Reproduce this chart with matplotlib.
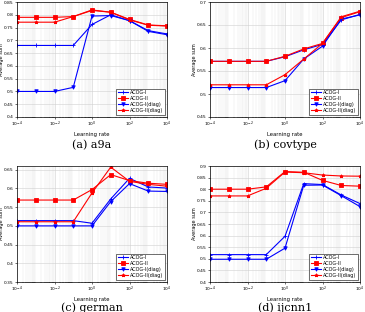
import numpy as np
import matplotlib.pyplot as plt

# learning rates 1e-4 ... 1e4
lr = [1e-4, 1e-3, 1e-2, 1e-1, 1e0, 1e1, 1e2, 1e3, 1e4]
labels = ["ACOG-I", "ACOG-II", "ACOG-I(diag)", "ACOG-II(diag)"]

a9a_I = [0.68, 0.68, 0.68, 0.68, 0.762, 0.80, 0.777, 0.738, 0.725]
a9a_II = [0.79, 0.79, 0.79, 0.793, 0.817, 0.81, 0.782, 0.76, 0.757]
a9a_Id = [0.50, 0.50, 0.50, 0.516, 0.795, 0.797, 0.777, 0.735, 0.722]
a9a_IId = [0.771, 0.771, 0.771, 0.793, 0.819, 0.81, 0.78, 0.759, 0.756]

cov_I = [0.571, 0.571, 0.571, 0.571, 0.581, 0.596, 0.608, 0.661, 0.673]
cov_II = [0.571, 0.571, 0.571, 0.571, 0.582, 0.598, 0.610, 0.666, 0.679]
cov_Id = [0.514, 0.514, 0.514, 0.514, 0.529, 0.576, 0.604, 0.663, 0.672]
cov_IId = [0.520, 0.520, 0.520, 0.520, 0.542, 0.576, 0.610, 0.668, 0.680]

ger_I = [0.514, 0.514, 0.514, 0.514, 0.507, 0.572, 0.627, 0.604, 0.601]
ger_II = [0.569, 0.569, 0.569, 0.569, 0.597, 0.637, 0.621, 0.614, 0.611]
ger_Id = [0.50, 0.50, 0.50, 0.50, 0.50, 0.565, 0.613, 0.593, 0.592]
ger_IId = [0.511, 0.511, 0.511, 0.511, 0.588, 0.657, 0.619, 0.611, 0.606]

ijc_I = [0.518, 0.518, 0.518, 0.518, 0.597, 0.824, 0.82, 0.775, 0.738]
ijc_II = [0.80, 0.80, 0.80, 0.81, 0.876, 0.873, 0.838, 0.816, 0.813]
ijc_Id = [0.498, 0.498, 0.498, 0.498, 0.546, 0.817, 0.818, 0.772, 0.725]
ijc_IId = [0.771, 0.771, 0.771, 0.804, 0.874, 0.871, 0.861, 0.857, 0.856]

styles = [("b", "+"), ("r", "s"), ("b", "v"), ("r", "*")]

fig = plt.figure(figsize=(3.65, 3.12), dpi=100)
W, H = 365.0, 312.0


def panel(box, series, ylim, yticks, caption, cap_y):
    l, t, r, b = box
    ax = fig.add_axes([l / W, 1 - b / H, (r - l) / W, (b - t) / H])
    for (c, m), y, lab in zip(styles, series, labels):
        ax.plot(lr, y, color=c, marker=m, lw=0.8, ms=2.5, mew=0.6, label=lab)
    ax.set_xscale("log")
    ax.set_xlim(1e-4, 1e4)
    ax.set_ylim(*ylim)
    ax.set_xticks([1e-4, 1e-2, 1e0, 1e2, 1e4])
    ax.set_yticks(yticks)
    ax.set_yticklabels([f"{v:g}" for v in yticks])
    ax.grid(True, which="major", color="#d0d0d0", lw=0.4)
    ax.grid(True, which="minor", axis="x", color="#e4e4e4", lw=0.3)
    ax.tick_params(labelsize=3.2, length=1.5, width=0.4, pad=0.8)
    ax.tick_params(which="minor", length=1, width=0.3)
    for s in ax.spines.values():
        s.set_linewidth(0.5)
    ax.set_ylabel("Average sum", fontsize=3.6, labelpad=0.3)
    ax.set_xlabel("Learning rate", fontsize=3.8, labelpad=2)
    leg = ax.legend(loc="lower right", fontsize=3.5, fancybox=False,
                    edgecolor="black", framealpha=1, borderpad=0.3,
                    handlelength=2.2, labelspacing=0.2, handletextpad=0.3)
    leg.get_frame().set_linewidth(0.4)
    fig.text((l + r) / 2 / W, 1 - cap_y / H, caption, fontsize=8,
             family="DejaVu Serif", ha="center", va="center")
    return ax


panel((17, 2, 167, 117), [a9a_I, a9a_II, a9a_Id, a9a_IId], (0.4, 0.85),
      np.arange(0.4, 0.851, 0.05).round(2), "(a) a9a", 145)
panel((210, 2, 360, 117), [cov_I, cov_II, cov_Id, cov_IId], (0.45, 0.7),
      np.arange(0.45, 0.701, 0.05).round(2), "(b) covtype", 145)
panel((17, 166, 167, 282), [ger_I, ger_II, ger_Id, ger_IId], (0.35, 0.66),
      np.arange(0.35, 0.651, 0.05).round(2), "(c) german", 308)
panel((210, 166, 360, 282), [ijc_I, ijc_II, ijc_Id, ijc_IId], (0.4, 0.9),
      np.arange(0.4, 0.901, 0.05).round(2), "(d) ijcnn1", 308)

fig.savefig("out.png", dpi=100)
